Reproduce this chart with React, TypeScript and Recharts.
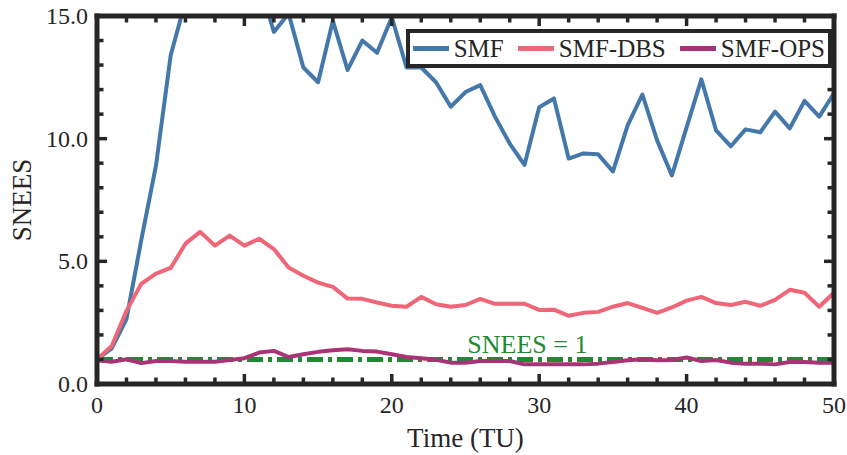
import React from 'react';
import { LineChart, Line, XAxis, YAxis, ReferenceLine, ReferenceDot, Label } from 'recharts';

const times = [0,1,2,3,4,5,6,7,8,9,10,11,12,13,14,15,16,17,18,19,20,21,22,23,24,25,26,27,28,29,30,31,32,33,34,35,36,37,38,39,40,41,42,43,44,45,46,47,48,49,50];
const smf = [1.0,1.45,2.65,5.85,8.9,13.4,15.6,17.2,18.0,17.5,17.0,16.4,14.35,15.1,12.9,12.3,14.8,12.8,14.0,13.5,14.95,12.9,12.9,12.3,11.3,11.9,12.18,10.9,9.8,8.93,11.28,11.64,9.19,9.4,9.36,8.66,10.54,11.8,9.93,8.5,10.46,12.42,10.34,9.69,10.38,10.26,11.1,10.42,11.54,10.9,11.85];
const smfDbs = [1.0,1.55,2.98,4.08,4.5,4.73,5.72,6.2,5.64,6.05,5.64,5.92,5.5,4.75,4.41,4.13,3.96,3.48,3.47,3.32,3.19,3.15,3.55,3.25,3.15,3.22,3.47,3.27,3.27,3.27,3.02,3.03,2.78,2.9,2.94,3.15,3.3,3.1,2.9,3.12,3.4,3.55,3.3,3.22,3.35,3.19,3.43,3.84,3.72,3.15,3.72];
const smfOps = [0.97,0.91,1.01,0.85,0.94,0.94,0.91,0.91,0.91,0.98,1.05,1.28,1.35,1.1,1.21,1.31,1.38,1.42,1.35,1.32,1.21,1.1,1.05,0.99,0.87,0.87,0.94,0.94,0.94,0.8,0.8,0.8,0.8,0.8,0.83,0.9,0.97,1.01,0.97,0.98,1.08,0.94,0.98,0.87,0.83,0.83,0.8,0.9,0.9,0.87,0.87];

const xTicks = [0,2,4,6,8,10,12,14,16,18,20,22,24,26,28,30,32,34,36,38,40,42,44,46,48,50];
const xMajor = [0,10,20,30,40,50];
const yTicks = [0,1,2,3,4,5,6,7,8,9,10,11,12,13,14,15];
const yMajor = [0,5,10,15];
const xDomain = [0, 50];
const yDomain = [0, 15];

const seriesNames = ['SMF', 'SMF-DBS', 'SMF-OPS'];
const seriesKeys = ['smf', 'dbs', 'ops'];
const seriesColors = ['#4477AA', '#EE6677', '#AA3377'];

const refLevel = 1;
const refLabel = 'SNEES = 1';
const refLabelX = 29.2;
const refColor = '#228833';

const xLabel = 'Time (TU)';
const yLabel = 'SNEES';

const data = times.map((t, i) => ({ t, smf: smf[i], dbs: smfDbs[i], ops: smfOps[i] }));

const FONT = '"Liberation Serif", "Times New Roman", serif';
const INK = '#262626';
const TICKW = 3.5;
const txt = (size: number, color: string) => ({ fontFamily: FONT, fontSize: size, fill: color });

const BottomTick = (props: any) => {
  const { x, y, payload } = props;
  const major = xMajor.includes(payload.value);
  return (
    <g>
      <line x1={x} x2={x} y1={y} y2={y - (major ? 10 : 6.5)} style={{ stroke: INK, strokeWidth: TICKW }} />
      {major && (
        <text x={x} y={y + 29} textAnchor="middle" style={txt(24, INK)}>{payload.value}</text>
      )}
    </g>
  );
};

const TopTick = (props: any) => {
  const { x, y, payload } = props;
  const major = xMajor.includes(payload.value);
  return <line x1={x} x2={x} y1={y} y2={y + (major ? 10 : 6.5)} style={{ stroke: INK, strokeWidth: TICKW }} />;
};

const LeftTick = (props: any) => {
  const { x, y, payload } = props;
  const major = yMajor.includes(payload.value);
  return (
    <g>
      <line x1={x} x2={x + (major ? 10 : 6.5)} y1={y} y2={y} style={{ stroke: INK, strokeWidth: TICKW }} />
      {major && (
        <text x={x - 9} y={y + 8} textAnchor="end" style={txt(24, INK)}>{payload.value.toFixed(1)}</text>
      )}
    </g>
  );
};

const RightTick = (props: any) => {
  const { x, y, payload } = props;
  const major = yMajor.includes(payload.value);
  return <line x1={x} x2={x - (major ? 10 : 6.5)} y1={y} y2={y} style={{ stroke: INK, strokeWidth: TICKW }} />;
};

const YLabelContent = (props: any) => {
  const vb = props.viewBox || {};
  const cx = 22;
  const cy = (vb.y || 0) + (vb.height || 0) / 2;
  return (
    <text x={cx} y={cy} transform={`rotate(-90 ${cx} ${cy})`} textAnchor="middle" dominantBaseline="central" style={txt(27, INK)}>{yLabel}</text>
  );
};

const XLabelContent = (props: any) => {
  const vb = props.viewBox || {};
  const cx = (vb.x || 0) + (vb.width || 0) / 2;
  const cy = (vb.y || 0) + 63;
  return (
    <text x={cx} y={cy} textAnchor="middle" style={txt(27, INK)}>{xLabel}</text>
  );
};

const RefLabelContent = (props: any) => {
  const vb = props.viewBox || {};
  const cx = (vb.x || 0) + (vb.width || 0) / 2;
  const cy = (vb.y || 0) + (vb.height || 0) / 2;
  return (
    <text x={cx} y={cy - 6} textAnchor="middle" style={txt(26, refColor)}>{refLabel}</text>
  );
};

const LegendBox = () => (
  <div
    style={{
      position: 'absolute', right: 15, top: 29, border: `4px solid ${INK}`, background: '#fff',
      display: 'flex', alignItems: 'center', padding: '0 3px', height: 31, fontFamily: FONT, fontSize: 25, color: INK,
    }}
  >
    {seriesNames.map((n, i) => (
      <div key={n} style={{ display: 'flex', alignItems: 'center', marginLeft: i === 0 ? 0 : 14 }}>
        <div style={{ width: 36, height: 5, background: seriesColors[i], marginRight: 5 }} />
        <span style={{ lineHeight: '31px' }}>{n}</span>
      </div>
    ))}
  </div>
);

const frame = { stroke: INK, strokeWidth: 5, strokeLinecap: 'square' as const };

export default function App() {
  const refProps: any = { zIndex: 350 };
  return (
    <div style={{ position: 'absolute', left: 0, top: 0, width: 847, height: 455, background: '#fff' }}>
      <LineChart width={847} height={455} data={data} margin={{ top: 15, right: 12, bottom: 0, left: 0 }}>
        <XAxis dataKey="t" type="number" domain={xDomain} ticks={xTicks} interval={0} height={71}
          axisLine={frame} tickLine={false} tickSize={0} tickMargin={0} tick={<BottomTick />}>
          <Label content={<XLabelContent />} />
        </XAxis>
        <XAxis xAxisId="top" orientation="top" dataKey="t" type="number" domain={xDomain} ticks={xTicks} interval={0} height={1}
          axisLine={frame} tickLine={false} tickSize={0} tickMargin={0} tick={<TopTick />} />
        <YAxis type="number" domain={yDomain} allowDataOverflow ticks={yTicks} interval={0} width={97}
          axisLine={frame} tickLine={false} tickSize={0} tickMargin={0} tick={<LeftTick />}>
          <Label content={<YLabelContent />} />
        </YAxis>
        <YAxis yAxisId="right" orientation="right" type="number" domain={yDomain} allowDataOverflow ticks={yTicks} interval={0} width={1}
          axisLine={frame} tickLine={false} tickSize={0} tickMargin={0} tick={<RightTick />} />
        <ReferenceLine y={refLevel} stroke={refColor} strokeWidth={5} strokeDasharray="16 5 4 5" {...refProps} />
        {seriesKeys.map((k, i) => (
          <Line key={k} dataKey={k} name={seriesNames[i]} stroke={seriesColors[i]} strokeWidth={4} dot={false}
            isAnimationActive={false} strokeLinejoin="round" />
        ))}
        <ReferenceDot x={refLabelX} y={refLevel} r={0} fill="none" stroke="none" label={<RefLabelContent />} />
      </LineChart>
      <LegendBox />
    </div>
  );
}
